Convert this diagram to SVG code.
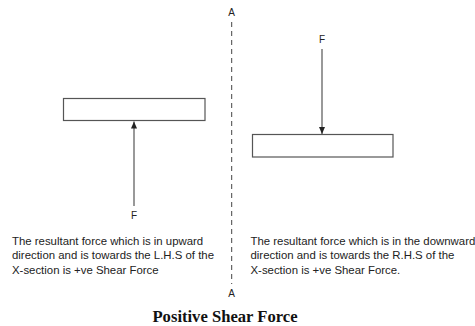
<svg xmlns="http://www.w3.org/2000/svg" width="475" height="326" viewBox="0 0 475 326">
<style>
.beam{fill:#fff;stroke:#555;stroke-width:1.2}
.force{stroke:#555;stroke-width:1.2;fill:none}
.lbl{font-family:"Liberation Sans",Arial,sans-serif;font-size:10px;fill:#222;text-anchor:middle}
.desc{font-family:"Liberation Sans",Arial,sans-serif;font-size:11.4px;fill:#222}
.title{font-family:"Liberation Serif","Times New Roman",serif;font-size:16.6px;font-weight:bold;fill:#111;text-anchor:middle}
</style>
<defs>
<marker id="ah" markerWidth="8" markerHeight="8" refX="7" refY="4" orient="auto" markerUnits="userSpaceOnUse">
<path d="M0,1 L7,4 L0,7 z" fill="#222"/>
</marker>
</defs>
<rect width="475" height="326" fill="#fff"/>
<g id="section-line">
<line x1="231.7" y1="22" x2="231.7" y2="284" stroke="#444" stroke-width="1" stroke-dasharray="5 4"/>
<text class="lbl" x="231.7" y="16">A</text>
<text class="lbl" x="231.7" y="297">A</text>
</g>
<g id="left-beam">
<rect class="beam" x="63.5" y="98.5" width="141.5" height="22"/>
</g>
<g id="right-beam">
<rect class="beam" x="252.5" y="134.5" width="140.5" height="22.5"/>
</g>
<g id="left-F">
<text class="lbl" x="134" y="219">F</text>
</g>
<g id="right-F">
<text class="lbl" x="322" y="43">F</text>
</g>
<g id="connectors">
<line class="force" x1="134" y1="206" x2="134" y2="121.5" marker-end="url(#ah)"/>
<line class="force" x1="322" y1="49" x2="322" y2="134" marker-end="url(#ah)"/>
</g>
<g id="left-text">
<text class="desc" x="12" y="244.5">The resultant force which is in upward</text>
<text class="desc" x="12" y="259">direction and is towards the L.H.S of the</text>
<text class="desc" x="12" y="273.5">X-section is +ve Shear Force</text>
</g>
<g id="right-text">
<text class="desc" x="250.5" y="244.5">The resultant force which is in the downward</text>
<text class="desc" x="250.5" y="259">direction and is towards the R.H.S of the</text>
<text class="desc" x="250.5" y="273.5">X-section is +ve Shear Force.</text>
</g>
<g id="caption">
<text class="title" x="225" y="322">Positive Shear Force</text>
</g>
</svg>
